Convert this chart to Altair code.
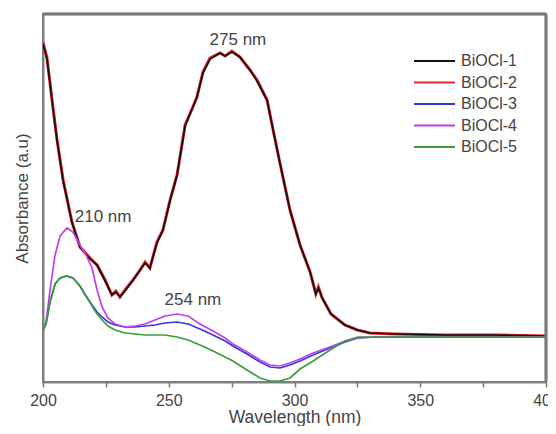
import altair as alt
import pandas as pd

# Wavelength grid (nm) for the strong-absorbing curves
lam_top = [200, 201.6, 203.6, 205.6, 208, 211.5, 214.7, 218.7, 221.5, 224.7, 227.4, 229, 230.6, 232.6,
           235.8, 238.6, 240.6, 242.5, 245.3, 247.7, 250.5, 253.3, 256.5, 259.6, 261.2, 263.6, 266.4,
           270.4, 272.4, 275.1, 278.3, 282.3, 285.1, 289.1, 291.5, 294.2, 298.2, 302.2, 306.2, 308.5,
           309.5, 311, 314.5, 320, 325, 330, 340, 360, 380, 400]
bioc2 = [340, 324, 282, 242, 202, 160, 135, 124, 117, 102, 87, 91, 85, 92, 102, 112, 120, 114, 140, 152,
         182, 207, 257, 275, 285, 310, 324, 329, 326, 331, 325, 312, 302, 282, 252, 219, 172, 137, 110, 88,
         95, 84, 68, 57, 52, 49, 48, 47, 47, 46]
bioc1 = [338, 323, 281, 241, 201, 160, 135, 123, 117, 101, 87, 90, 85, 91, 102, 112, 119, 114, 139, 152,
         181, 207, 256, 275, 285, 309, 323, 329, 326, 330, 325, 312, 301, 282, 252, 219, 172, 137, 110, 88,
         94, 84, 68, 57, 52, 49, 48, 47, 47, 46]

# Wavelength grid (nm) for the weaker curves
lam_low = [200, 201.2, 202.8, 204.8, 206.8, 209.5, 211.9, 214.7, 217.1, 219.5, 221.5, 223.5, 225.8, 228.6,
           232.6, 236.6, 240.6, 244.5, 248.5, 253.3, 257.7, 262.4, 267.6, 272.4, 275.5, 281.1, 286.3, 290.3,
           294.2, 298.2, 302.2, 307.4, 314.1, 320.1, 325.2, 332, 345, 360, 380, 400]
bioc3 = [52, 58, 80, 98, 104, 106, 104, 96, 86, 77, 70, 65, 60, 57, 55, 55, 56, 57, 59, 60,
         58, 53, 47, 41, 36, 28, 20, 15, 14, 17, 21, 27, 34, 40, 44, 45, 45, 45, 45, 45]
bioc4 = [52, 60, 92, 127, 146, 154, 150, 137, 127, 114, 92, 75, 64, 58, 55, 56, 58, 62, 66, 68,
         66, 58, 51, 44, 38, 30, 22, 17, 16, 19, 23, 29, 35, 41, 44, 45, 45, 45, 45, 45]
bioc5 = [52, 58, 80, 98, 104, 106, 104, 96, 86, 76, 68, 62, 56, 52, 49, 48, 47, 47, 47, 45,
         42, 37, 31, 25, 21, 12, 4, 1, 1, 4, 13, 21, 32, 41, 45, 45, 45, 45, 45, 45]

series = ["BiOCl-1", "BiOCl-2", "BiOCl-3", "BiOCl-4", "BiOCl-5"]
colors = ["#111111", "#e8242c", "#3838e0", "#c040ea", "#3a9e3a"]

ann_text = ["275 nm", "210 nm", "254 nm"]
ann_lam = [277.5, 223.9, 259.6]
ann_abs = [342, 165, 82]

x_min, x_max = 200, 400
y_min, y_max = 0, 368

rows = []
for name, lams, vals in [("BiOCl-1", lam_top, bioc1), ("BiOCl-2", lam_top, bioc2),
                         ("BiOCl-3", lam_low, bioc3), ("BiOCl-4", lam_low, bioc4),
                         ("BiOCl-5", lam_low, bioc5)]:
    for i, (l, v) in enumerate(zip(lams, vals)):
        rows.append({"sample": name, "wl": l, "abs": v, "i": i})
df = pd.DataFrame(rows)
ann = pd.DataFrame({"t": ann_text, "wl": ann_lam, "abs": ann_abs})

xscale = alt.Scale(domain=[x_min, x_max], nice=False)
yscale = alt.Scale(domain=[y_min, y_max], nice=False)
color = alt.Color("sample:N", scale=alt.Scale(domain=series, range=colors),
                  legend=alt.Legend(title=None, orient="none", legendX=370, legendY=39,
                                    symbolType="stroke", symbolSize=1681, symbolStrokeWidth=2,
                                    clipHeight=16, rowPadding=5.5, labelFontSize=16,
                                    labelColor="#444", labelOffset=5, labelFont="Liberation Sans"))

x = alt.X("wl:Q", scale=xscale,
          axis=alt.Axis(title="Wavelength (nm)", values=[200, 225, 250, 275, 300, 325, 350, 375, 400],
                        labelExpr="datum.value % 50 == 0 ? datum.label : ''",
                        labelFlush=False, labelOverlap=False,
                        grid=False, tickSize=5, tickWidth=1.5, tickColor="#777",
                        domainColor="#808080", domainWidth=2, labelFontSize=16, labelColor="#444",
                        labelPadding=5, titleFontSize=17.5, titleColor="#444", titlePadding=0,
                        titleFontWeight="normal", labelFont="Liberation Sans",
                        titleFont="Liberation Sans"))
y = alt.Y("abs:Q", scale=yscale,
          axis=alt.Axis(title="Absorbance (a.u)", labels=False, ticks=False, grid=False,
                        domainColor="#808080", domainWidth=2, titleFontSize=17, titleColor="#444",
                        titlePadding=12, titleFontWeight="normal", titleFont="Liberation Sans"))

red_layer = alt.Chart(df).transform_filter(alt.datum.sample == "BiOCl-2").mark_line(
    strokeWidth=3, clip=True).encode(x=x, y=y, color=color, order="i:Q")
other_layer = alt.Chart(df).transform_filter(alt.datum.sample != "BiOCl-2").mark_line(
    strokeWidth=1.7, clip=True).encode(x=x, y=y, color=color, order="i:Q")
text_layer = alt.Chart(ann).mark_text(fontSize=17, color="#444", font="Liberation Sans").encode(
    x=alt.X("wl:Q", scale=xscale), y=alt.Y("abs:Q", scale=yscale), text="t:N")

# top and right edges of the frame, placed through the scales
top_edge = alt.Chart(ann).mark_rule(color="#7a7a7a", strokeWidth=2.5).encode(
    y=alt.datum(y_max, scale=yscale))
right_edge = alt.Chart(ann).mark_rule(color="#7a7a7a", strokeWidth=2.5).encode(
    x=alt.datum(x_max, scale=xscale))

chart = alt.layer(red_layer, other_layer, text_layer, top_edge, right_edge).properties(
    width=503, height=368,
    background="white",
    autosize=alt.AutoSizeParams(type="none"),
    padding={"left": 35, "top": 6, "right": 2, "bottom": 44},
).configure_view(stroke="#7a7a7a", strokeWidth=2)

chart.save("out.html", embed_options={"renderer": "svg", "actions": False})
